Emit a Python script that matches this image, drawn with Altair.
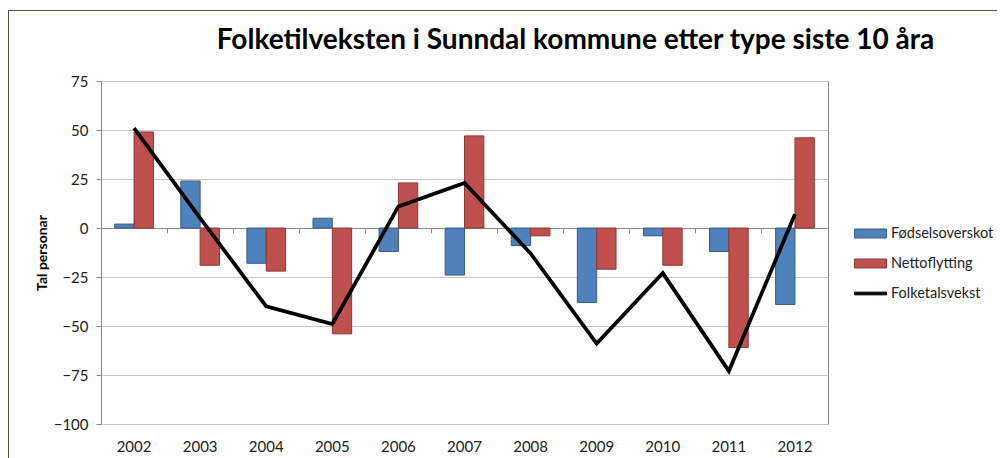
import altair as alt
import pandas as pd

# ---- data ----
years = ["2002", "2003", "2004", "2005", "2006", "2007", "2008", "2009", "2010", "2011", "2012"]
fodselsoverskot = [2, 24, -18, 5, -12, -24, -9, -38, -4, -12, -39]
nettoflytting = [49, -19, -22, -54, 23, 47, -4, -21, -19, -61, 46]
folketalsvekst = [51, 5, -40, -49, 11, 23, -13, -59, -23, -73, 7]
series_names = ["Fødselsoverskot", "Nettoflytting", "Folketalsvekst"]
series_colors = ["#4f81bd", "#c0504d", "#000000"]
edge_colors = ["#385d8a", "#8c3836"]
y_ticks = [-100, -75, -50, -25, 0, 25, 50, 75]
title_text = "Folketilveksten i Sunndal kommune etter type siste 10 åra"
y_title = "Tal personar"

bar_df = pd.DataFrame({
    "year": years * 2,
    "series": [series_names[0]] * len(years) + [series_names[1]] * len(years),
    "value": fodselsoverskot + nettoflytting,
})
line_df = pd.DataFrame({"year": years, "series": series_names[2], "value": folketalsvekst})
one_row = pd.DataFrame({"k": [0]})

W, H = 727, 343
FONT = "Lato"
GRAY = "#8c8c8c"
TXT = "#222222"

legend = alt.Legend(
    title=None, orient="none", legendX=754, legendY=137, padding=0, rowPadding=8,
    symbolSize=900,
    symbolType=alt.ExprRef(
        "datum.value === 'Folketalsvekst' ? 'M-1.07,-0.09H1.07V0.09H-1.07Z' : 'M-1.07,-0.3H1.07V0.3H-1.07Z'"
    ),
    symbolStrokeColor=alt.ExprRef(
        "datum.value === 'Folketalsvekst' ? '#000000' : datum.value === 'Nettoflytting' ? '#8c3836' : '#385d8a'"
    ),
    symbolStrokeWidth=1,
    labelFont=FONT, labelFontSize=14.5, labelColor=TXT, labelOffset=5,
)

x_axis = alt.Axis(
    title=None, offset=-196, domainColor=GRAY, domainWidth=1, ticks=True, tickSize=5,
    tickColor=GRAY, bandPosition=0, labelPadding=206, labelFont=FONT, labelFontSize=15,
    labelColor=TXT, labelAngle=0, grid=False,
)
y_axis = alt.Axis(
    values=y_ticks, title=y_title, titleFont=FONT, titleFontSize=14, titleFontWeight="bold",
    titleColor="#000000", titleX=-59, titleY=H / 2, titleAlign="center", titleBaseline="middle",
    grid=True, gridColor="#c6c6c6", gridWidth=1, domainColor=GRAY, tickColor=GRAY, tickSize=5,
    labelPadding=8, labelFont=FONT, labelFontSize=15, labelColor=TXT,
)

bars = alt.Chart(bar_df).mark_bar(strokeWidth=1).encode(
    x=alt.X("year:N", sort=years, scale=alt.Scale(paddingInner=0, paddingOuter=0), axis=x_axis),
    xOffset=alt.XOffset("series:N", sort=series_names[:2],
                        scale=alt.Scale(domain=series_names[:2], paddingInner=0, paddingOuter=0.708)),
    y=alt.Y("value:Q", scale=alt.Scale(domain=[-100, 75], nice=False, zero=False), axis=y_axis),
    color=alt.Color("series:N", scale=alt.Scale(domain=series_names, range=series_colors), legend=legend),
    stroke=alt.Stroke("series:N", scale=alt.Scale(domain=series_names[:2], range=edge_colors), legend=None),
)

line = alt.Chart(line_df).mark_line(color="#000000", strokeWidth=3.75).encode(
    x=alt.X("year:N", sort=years),
    y=alt.Y("value:Q"),
)

border_left = alt.Chart(one_row).mark_rule(color="#5b5536", strokeWidth=1).encode(
    x=alt.value(-92.5), y=alt.value(-70.5), y2=alt.value(420)
)
border_top = alt.Chart(one_row).mark_rule(color="#5b5536", strokeWidth=1).encode(
    x=alt.value(-93), x2=alt.value(1000), y=alt.value(-70.5)
)

chart = alt.layer(bars, line, border_left, border_top).properties(
    width=W, height=H,
    title=alt.TitleParams(
        text=title_text, font=FONT, fontSize=28, fontWeight="bold", color="#000000",
        anchor="middle", frame="group", dx=111, dy=67, offset=0, baseline="alphabetic",
    ),
    autosize=alt.AutoSizeParams(type="none"),
    padding={"left": 93, "top": 73, "right": 169, "bottom": 34},
).configure(background="#ffffff").configure_view(stroke=GRAY, strokeWidth=1)

chart.save("out.html", embed_options={"renderer": "svg", "actions": False})
